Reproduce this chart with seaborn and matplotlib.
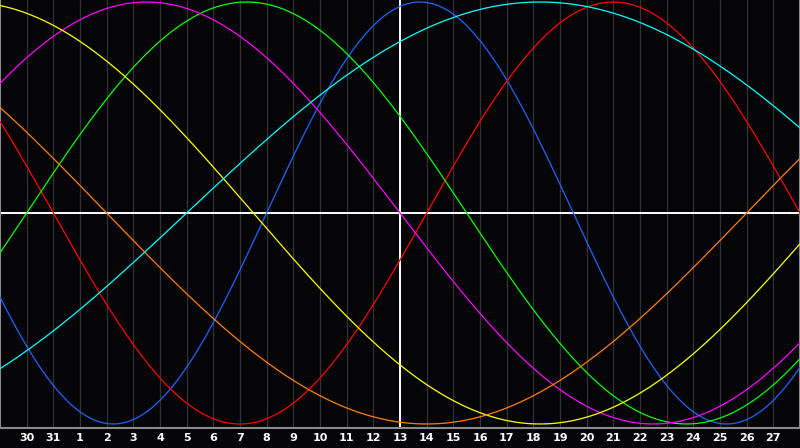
"""
Biorhythm chart: seven sine cycles over a 30 day window.

Outputs:
    out.png
"""

import numpy as np
import pandas as pd
import seaborn as sns
import matplotlib.pyplot as plt


# ---------------------------------------------------------------------
# Chart data
# ---------------------------------------------------------------------

DAY_LABELS = ["30", "31"] + [str(d) for d in range(1, 28)]
TODAY_INDEX = 14  # day 13

CYCLES = ["physical", "emotional", "intellectual", "intuitive",
          "aesthetic", "awareness", "spiritual"]
PERIODS = [23, 28, 33, 38, 43, 48, 53]
# day index (0 = first label) where each cycle crosses zero going up
ZERO_CROSSINGS = [9, 15, 0, -5, -13, 27, 6]
COLORS = ["#1e64ff", "#ff0000", "#00ff00", "#ff00ff",
          "#ffff00", "#ff8000", "#00ffff"]

BACKGROUND = "#050508"
GRID_COLOR = "#333336"
FRAME_COLOR = "#8a8a8a"


def build_frame():
    """
    Sample every cycle along the visible window.
    """

    x = np.linspace(-1, 29, 901)
    rows = []
    for name, period, start in zip(CYCLES, PERIODS, ZERO_CROSSINGS):
        y = np.sin(2 * np.pi * (x - start) / period)
        rows.append(pd.DataFrame({"day": x, "value": y, "cycle": name}))
    return pd.concat(rows, ignore_index=True)


def draw_chart():
    sns.set_style("dark")
    plt.rcParams["font.family"] = ["DejaVu Sans"]

    fig = plt.figure(figsize=(8, 4.48), dpi=100, facecolor=BACKGROUND)
    ax = fig.add_axes([0, 20 / 448, 1, 428 / 448])
    ax.set_facecolor(BACKGROUND)

    for i in range(len(DAY_LABELS)):
        ax.axvline(i, color=GRID_COLOR, lw=0.9, zorder=1)

    df = build_frame()
    sns.lineplot(
        data=df,
        x="day",
        y="value",
        hue="cycle",
        hue_order=CYCLES,
        palette=COLORS,
        linewidth=0.9,
        legend=False,
        ax=ax,
        zorder=3,
    )

    ax.axhline(0, color="white", lw=1.4, zorder=2)
    ax.axvline(TODAY_INDEX, color="white", lw=1.4, zorder=2)

    ax.set_xlim(-1, 29)
    ax.set_ylim(-215 / 211, 213 / 211)

    ax.set_xticks(range(len(DAY_LABELS)))
    ax.set_xticklabels(DAY_LABELS, color="white", fontsize=8,
                       fontweight="bold")
    ax.tick_params(axis="x", length=0, pad=3.5)
    ax.set_yticks([])
    ax.set_xlabel("")
    ax.set_ylabel("")
    ax.grid(False)

    for side in ["left", "right", "bottom"]:
        ax.spines[side].set_visible(True)
        ax.spines[side].set_color(FRAME_COLOR)
        ax.spines[side].set_linewidth(1.5)
    ax.spines["top"].set_visible(False)

    fig.savefig("out.png", dpi=100, facecolor=BACKGROUND)
    plt.close(fig)


if __name__ == "__main__":
    draw_chart()
